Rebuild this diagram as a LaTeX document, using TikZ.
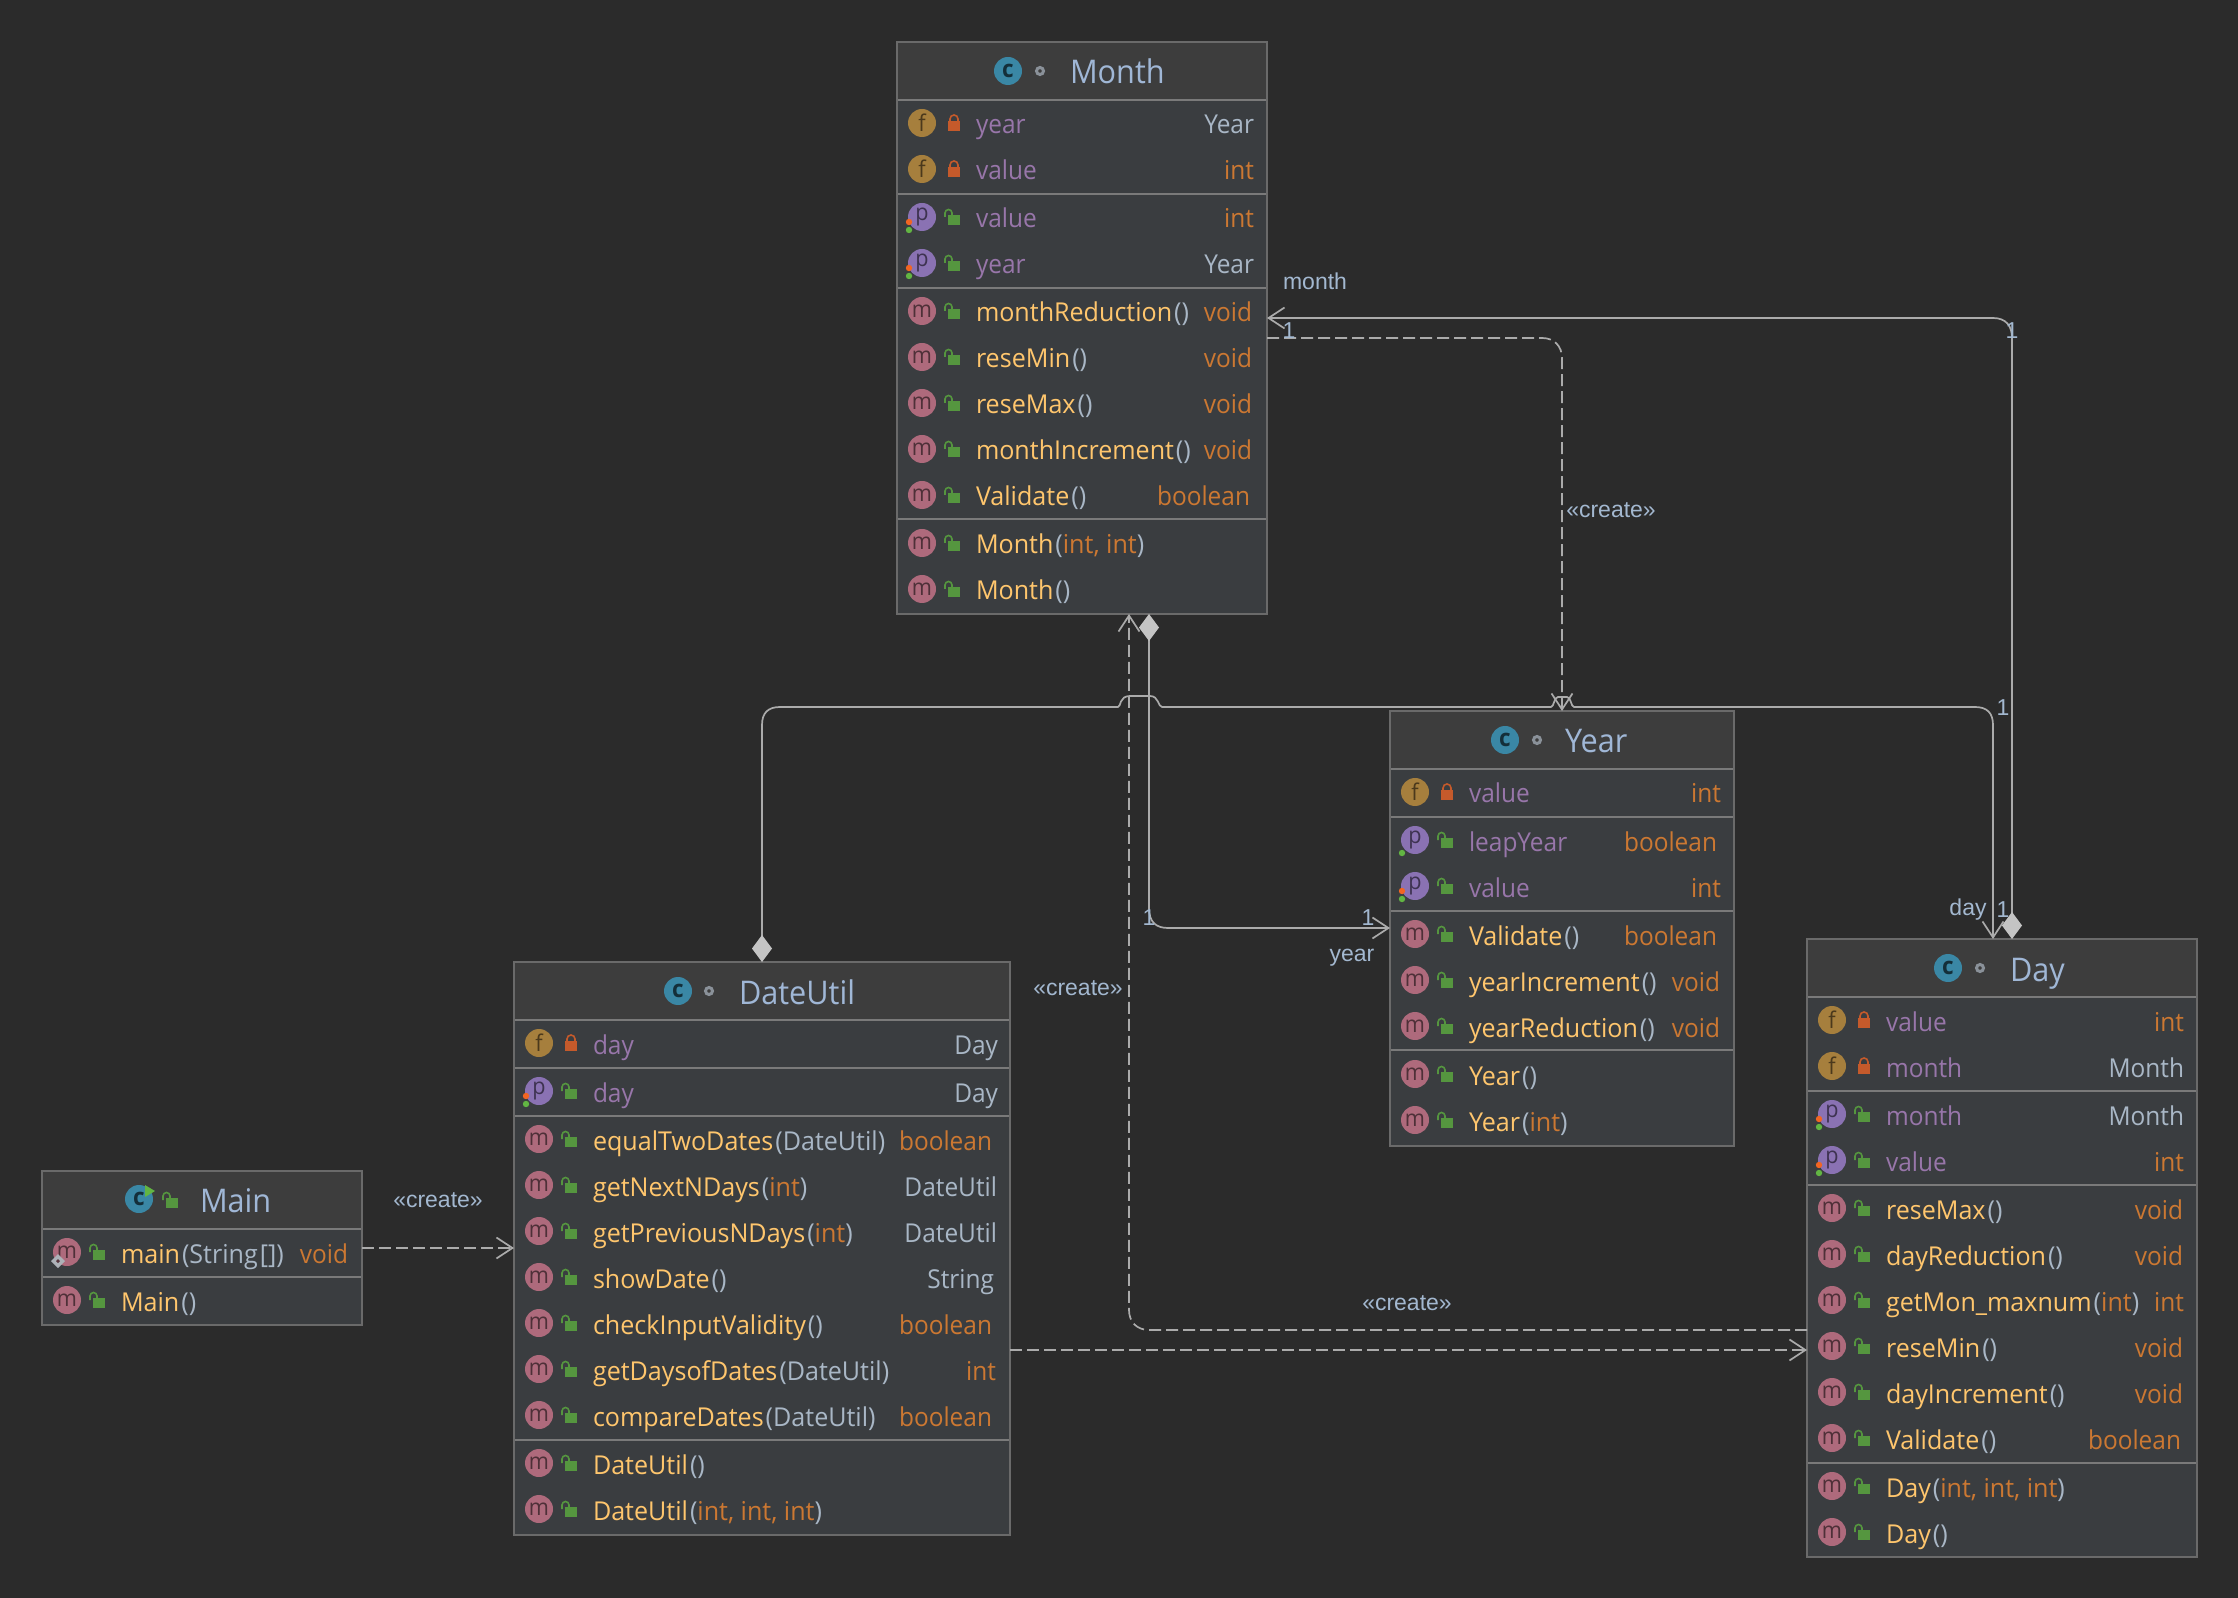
\documentclass[tikz,border=0pt]{standalone}
\usepackage{fontspec}
\setmainfont[FakeStretch=0.94]{Open Sans}
\newfontfamily\mfont[FakeStretch=0.965]{Open Sans}
\newfontfamily\lblfont{Liberation Sans}
\usetikzlibrary{arrows.meta}
\definecolor{bgc}{HTML}{2B2B2B}
\definecolor{bodyc}{HTML}{3A3D40}
\definecolor{headc}{HTML}{3D3D3D}
\definecolor{borderc}{HTML}{6A6A6A}
\definecolor{sepc}{HTML}{7A7A7A}
\definecolor{linec}{HTML}{ABABAB}
\definecolor{diamc}{HTML}{C4C4C4}
\definecolor{titlec}{HTML}{A0B7D6}
\definecolor{labelc}{HTML}{A3B8D0}
\definecolor{fieldc}{HTML}{9876AA}
\definecolor{methodc}{HTML}{FFC66D}
\definecolor{plainc}{HTML}{A9B7C6}
\definecolor{primc}{HTML}{CC7832}
\definecolor{iconc}{HTML}{3A87A5}
\definecolor{iconf}{HTML}{A67F3D}
\definecolor{iconp}{HTML}{8A72B3}
\definecolor{iconm}{HTML}{AE6A7C}
\definecolor{lockpriv}{HTML}{C55A2B}
\definecolor{lockpub}{HTML}{55963F}
\definecolor{dotor}{HTML}{F26522}
\definecolor{dotgr}{HTML}{62B543}
\definecolor{ringc}{HTML}{8A9199}
\tikzset{
  classbody/.style={draw=borderc,line width=1pt,fill=bodyc,inner sep=0pt,outer sep=0pt},
  headbody/.style={fill=headc,inner sep=0pt,outer sep=0pt},
  sepline/.style={draw=sepc,line width=1pt},
  icondot/.style={circle,inner sep=0pt,outer sep=0pt,minimum size=14pt,font=\fontsize{11.5}{12}\selectfont},
  rowtext/.style={inner sep=0pt,outer sep=0pt,font=\fontsize{13}{15}\selectfont},
  titletext/.style={inner sep=0pt,outer sep=0pt,anchor=base west,text=titlec,font=\fontsize{16.3}{19}\selectfont},
  edgelabel/.style={inner sep=0pt,outer sep=0pt,text=labelc,font=\lblfont\fontsize{11.5}{13}\selectfont},
  rel/.style={draw=linec,line width=0.85pt},
  dep/.style={rel,dash pattern=on 6pt off 2.5pt,-{Straight Barb[length=8pt,width=10.5pt]}},
  comp/.style={rel,{Diamond[fill=diamc,length=13.5pt,width=10pt,line width=0pt]}-{Straight Barb[length=8pt,width=10.5pt]}},
}
\newcommand{\fn}[1]{\textcolor{fieldc}{#1}}
\newcommand{\mn}[1]{\textcolor{methodc}{#1}\kern1pt}
\newcommand{\pa}[1]{\textcolor{plainc}{#1}}
\newcommand{\pr}[1]{\textcolor{primc}{#1}}
% name x1 x2 y1 y2 headbottom
\newcommand{\umlclass}[6]{%
  \def\cxl{#2}\def\cxr{#3}%
  \node[classbody,minimum width={(#3-#2)*0.5pt},minimum height={(#5-#4)*0.5pt}] (#1) at ({(#2+#3)/2},{(#4+#5)/2}) {};
  \node[headbody,minimum width={(#3-#2-2)*0.5pt},minimum height={(#6-#4-2)*0.5pt}] (#1-head) at ({(#2+#3)/2},{(#4+#6)/2}) {};
  \draw[sepline] (#2+1,#6) -- (#3-1,#6);
}
% name iconx ringx titlex y
\newcommand{\umltitle}[5]{%
  \node[icondot,fill=iconc,text=black!65!iconc,font=\bfseries\fontsize{12}{12}\selectfont] (#1-icon) at (#2,#5) {c};
  \draw[ringc,line width=1.5pt] (#3,#5) circle[radius=1.75pt];
  \node[titletext] (#1-title) at (#4,#5+13) {#1};
}
\newcommand{\lockprv}[2]{%
  \fill[lockpriv] (#1-6,#2-2) rectangle (#1+6,#2+8);
  \draw[lockpriv,line width=0.8pt] (#1-4,#2-1) -- (#1-4,#2-4) arc[start angle=180,end angle=0,radius=2pt] -- (#1+4,#2-1);
}
\newcommand{\lockpbl}[2]{%
  \fill[lockpub] (#1-6,#2-2) rectangle (#1+6,#2+8);
  \draw[lockpub,line width=0.8pt] (#1-9,#2) -- (#1-9,#2-4) arc[start angle=180,end angle=0,radius=1.75pt] -- (#1-2,#2-2);
}
% class y kind lock name type typeright
\newcommand{\umlrow}[7]{%
  \node[icondot,fill=icon#3,text=icon#3!45!black] (#1-#2-i) at (\cxl+25,#2) {#3};
  \ifx#4p\lockprv{\cxl+57}{#2}\else\lockpbl{\cxl+57}{#2}\fi
  \node[rowtext,anchor=base west] (#1-#2-n) at (\cxl+79,#2+11) {\ifx#3m\mfont\fi #5};
  \if\relax\detokenize{#6}\relax\else
  \node[rowtext,anchor=base east] (#1-#2-t) at (#7,#2+11) {#6};\fi
}
\newcommand{\rwdots}[1]{%
  \fill[dotor] (\cxl+12,#1+5) circle[radius=1.6pt];
  \fill[dotgr] (\cxl+12,#1+13) circle[radius=1.6pt];
}
\newcommand{\rdot}[1]{\fill[dotgr] (\cxl+12,#1+13) circle[radius=1.6pt];}
\begin{document}
\begin{tikzpicture}[x=0.5pt,y=-0.5pt]
\useasboundingbox (0,0) rectangle (2238,1598);
\fill[bgc] (0,0) rectangle (2238,1598);

% Month
\umlclass{Month}{897}{1267}{42}{614}{100}
\umltitle{Month}{1008}{1040}{1070}{71}
\umlrow{Month}{123}{f}{p}{\fn{year}}{\pa{Year}}{1254}
\umlrow{Month}{169}{f}{p}{\fn{value}}{\pr{int}}{1254}
\draw[sepline] (898,194) -- (1266,194);
\umlrow{Month}{217}{p}{u}{\fn{value}}{\pr{int}}{1254}\rwdots{217}
\umlrow{Month}{263}{p}{u}{\fn{year}}{\pa{Year}}{1254}\rwdots{263}
\draw[sepline] (898,288) -- (1266,288);
\umlrow{Month}{311}{m}{u}{\mn{monthReduction}\pa{()}}{\pr{void}}{1252}
\umlrow{Month}{357}{m}{u}{\mn{reseMin}\pa{()}}{\pr{void}}{1252}
\umlrow{Month}{403}{m}{u}{\mn{reseMax}\pa{()}}{\pr{void}}{1252}
\umlrow{Month}{449}{m}{u}{\mn{monthIncrement}\pa{()}}{\pr{void}}{1252}
\umlrow{Month}{495}{m}{u}{\mn{Validate}\pa{()}}{\pr{boolean}}{1250}
\draw[sepline] (898,519) -- (1266,519);
\umlrow{Month}{543}{m}{u}{\mn{Month}\pa{(}\pr{int, int}\pa{)}}{}{0}
\umlrow{Month}{589}{m}{u}{\mn{Month}\pa{()}}{}{0}

% Year
\umlclass{Year}{1390}{1734}{711}{1146}{769}
\umltitle{Year}{1505}{1537}{1565}{740}
\umlrow{Year}{792}{f}{p}{\fn{value}}{\pr{int}}{1721}
\draw[sepline] (1391,817) -- (1733,817);
\umlrow{Year}{840}{p}{u}{\fn{leapYear}}{\pr{boolean}}{1717}\rdot{840}
\umlrow{Year}{886}{p}{u}{\fn{value}}{\pr{int}}{1721}\rwdots{886}
\draw[sepline] (1391,911) -- (1733,911);
\umlrow{Year}{934}{m}{u}{\mn{Validate}\pa{()}}{\pr{boolean}}{1717}
\umlrow{Year}{980}{m}{u}{\mn{yearIncrement}\pa{()}}{\pr{void}}{1720}
\umlrow{Year}{1026}{m}{u}{\mn{yearReduction}\pa{()}}{\pr{void}}{1720}
\draw[sepline] (1391,1050) -- (1733,1050);
\umlrow{Year}{1074}{m}{u}{\mn{Year}\pa{()}}{}{0}
\umlrow{Year}{1120}{m}{u}{\mn{Year}\pa{(}\pr{int}\pa{)}}{}{0}

% Day
\umlclass{Day}{1807}{2197}{939}{1557}{997}
\umltitle{Day}{1948}{1980}{2010}{968}
\umlrow{Day}{1020}{f}{p}{\fn{value}}{\pr{int}}{2184}
\umlrow{Day}{1066}{f}{p}{\fn{month}}{\pa{Month}}{2184}
\draw[sepline] (1808,1091) -- (2196,1091);
\umlrow{Day}{1114}{p}{u}{\fn{month}}{\pa{Month}}{2184}\rwdots{1114}
\umlrow{Day}{1160}{p}{u}{\fn{value}}{\pr{int}}{2184}\rwdots{1160}
\draw[sepline] (1808,1185) -- (2196,1185);
\umlrow{Day}{1208}{m}{u}{\mn{reseMax}\pa{()}}{\pr{void}}{2183}
\umlrow{Day}{1254}{m}{u}{\mn{dayReduction}\pa{()}}{\pr{void}}{2183}
\umlrow{Day}{1300}{m}{u}{\mn{getMon\_maxnum}\pa{(}\pr{int}\pa{)}}{\pr{int}}{2184}
\umlrow{Day}{1346}{m}{u}{\mn{reseMin}\pa{()}}{\pr{void}}{2183}
\umlrow{Day}{1392}{m}{u}{\mn{dayIncrement}\pa{()}}{\pr{void}}{2183}
\umlrow{Day}{1438}{m}{u}{\mn{Validate}\pa{()}}{\pr{boolean}}{2181}
\draw[sepline] (1808,1463) -- (2196,1463);
\umlrow{Day}{1486}{m}{u}{\mn{Day}\pa{(}\pr{int, int, int}\pa{)}}{}{0}
\umlrow{Day}{1532}{m}{u}{\mn{Day}\pa{()}}{}{0}

% DateUtil
\umlclass{DateUtil}{514}{1010}{962}{1535}{1020}
\umltitle{DateUtil}{678}{709}{739}{991}
\umlrow{DateUtil}{1043}{f}{p}{\fn{day}}{\pa{Day}}{998}
\draw[sepline] (515,1068) -- (1009,1068);
\umlrow{DateUtil}{1091}{p}{u}{\fn{day}}{\pa{Day}}{998}\rwdots{1091}
\draw[sepline] (515,1116) -- (1009,1116);
\umlrow{DateUtil}{1139}{m}{u}{\mn{equalTwoDates}\pa{(DateUtil)}}{\pr{boolean}}{992}
\umlrow{DateUtil}{1185}{m}{u}{\mn{getNextNDays}\pa{(}\pr{int}\pa{)}}{\pa{DateUtil}}{997}
\umlrow{DateUtil}{1231}{m}{u}{\mn{getPreviousNDays}\pa{(}\pr{int}\pa{)}}{\pa{DateUtil}}{997}
\umlrow{DateUtil}{1277}{m}{u}{\mn{showDate}\pa{()}}{\pa{String}}{994}
\umlrow{DateUtil}{1323}{m}{u}{\mn{checkInputValidity}\pa{()}}{\pr{boolean}}{992}
\umlrow{DateUtil}{1369}{m}{u}{\mn{getDaysofDates}\pa{(DateUtil)}}{\pr{int}}{996}
\umlrow{DateUtil}{1415}{m}{u}{\mn{compareDates}\pa{(DateUtil)}}{\pr{boolean}}{992}
\draw[sepline] (515,1440) -- (1009,1440);
\umlrow{DateUtil}{1463}{m}{u}{\mn{DateUtil}\pa{()}}{}{0}
\umlrow{DateUtil}{1509}{m}{u}{\mn{DateUtil}\pa{(}\pr{int, int, int}\pa{)}}{}{0}

% Main
\umlclass{Main}{42}{362}{1171}{1325}{1229}
\umltitle{Main}{139}{171}{200}{1199}
\fill[headc] (163,1190) rectangle (179,1210);
\lockpbl{172}{1200}
\fill[dotgr] (145,1185) -- (155,1191) -- (145,1197) -- cycle;
\umlrow{Main}{1252}{m}{u}{\mn{main}\pa{(String\kern1pt[])}}{\pr{void}}{348}
\fill[ringc!70!white] (58,1254) -- (65,1261) -- (58,1268) -- (51,1261) -- cycle;
\fill[iconm!50!black] (58,1259) -- (60,1261) -- (58,1263) -- (56,1261) -- cycle;
\draw[sepline] (43,1277) -- (361,1277);
\umlrow{Main}{1300}{m}{u}{\mn{Main}\pa{()}}{}{0}

% Connectors
\draw[dep] (Main.east |- 0,1248) -- (DateUtil.west |- 0,1248);
\draw[dep] (DateUtil.east |- 0,1350) -- (Day.west |- 0,1350);
\draw[dep] (Day.west |- 0,1330) -- (1149,1330) .. controls (1137,1330) and (1129,1322) .. (1129,1310) -- (1129,0 |- Month.south);
\draw[dep] (Month.east |- 0,338) -- (1542,338) .. controls (1554,338) and (1562,346) .. (1562,358) -- (1562,0 |- Year.north);
\draw[comp] (1149,0 |- Month.south) -- (1149,908) .. controls (1149,922) and (1156,928) .. (1168,928) -- (Year.west |- 0,928);
\draw[comp] (762,0 |- DateUtil.north) -- (762,725) .. controls (762,713) and (768,707) .. (780,707) -- (1118,707)
  .. controls (1121,707) and (1119,696) .. (1130,696) -- (1150,696) .. controls (1159,696) and (1158,707) .. (1162,707)
  -- (1551,707) .. controls (1554,707) and (1554,697) .. (1558,697) -- (1567,697) .. controls (1571,697) and (1571,707) .. (1574,707)
  -- (1975,707) .. controls (1987,707) and (1993,713) .. (1993,725) -- (1993,0 |- Day.north);
\draw[comp] (2012,0 |- Day.north) -- (2012,338) .. controls (2012,326) and (2006,318) .. (1993,318) -- (Month.east |- 0,318);

% Connector labels
\node[edgelabel] (lbl-create1) at (438,1200) {«create»};
\node[edgelabel] (lbl-create2) at (1407,1303) {«create»};
\node[edgelabel] (lbl-create3) at (1078,988) {«create»};
\node[edgelabel] (lbl-create4) at (1611,510) {«create»};
\node[edgelabel] (lbl-month) at (1315,281) {month};
\node[edgelabel] (lbl-month1a) at (1289,331) {1};
\node[edgelabel] (lbl-month1b) at (2012,331) {1};
\node[edgelabel] (lbl-year) at (1352,958) {year};
\node[edgelabel] (lbl-year1a) at (1149,918) {1};
\node[edgelabel] (lbl-year1b) at (1368,918) {1};
\node[edgelabel] (lbl-day) at (1968,910) {day};
\node[edgelabel] (lbl-day1a) at (2003,910) {1};
\node[edgelabel] (lbl-day1b) at (2003,708) {1};
\end{tikzpicture}
\end{document}
